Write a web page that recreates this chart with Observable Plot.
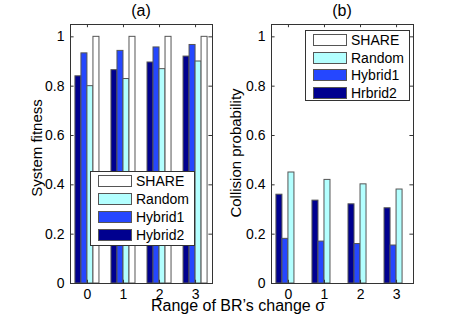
<!DOCTYPE html>
<html><head><meta charset="utf-8">
<script src="https://cdn.jsdelivr.net/npm/d3@7"></script>
<script src="https://cdn.jsdelivr.net/npm/@observablehq/plot@0.6"></script>
<style>
body{margin:0;background:#fff;font-family:"Liberation Sans",Arial,sans-serif;}
#fig{position:relative;width:457px;height:319px;overflow:hidden;background:#fff;}
.panel{position:absolute;top:0;}
.t{position:absolute;white-space:nowrap;color:#000;line-height:1;}
.legend{position:absolute;border:1px solid #333;background:#fff;box-sizing:border-box;}
.sw{position:absolute;border:1px solid #555;box-sizing:border-box;width:34px;height:12px;}
.lt{position:absolute;font-size:14px;line-height:1;white-space:nowrap;}
</style></head>
<body><div id="fig"></div>
<script>
const groups = [0, 1, 2, 3];
const seriesNames = ["SHARE", "Random", "Hybrid1", "Hybrid2"];
const seriesColors = ["#ffffff", "#b3ffff", "#2547ff", "#00008f"];
const barOrder = ["Hybrid2", "Hybrid1", "Random", "SHARE"];
const fitnessHybrid2 = [0.84, 0.865, 0.896, 0.92];
const fitnessHybrid1 = [0.933, 0.943, 0.957, 0.967];
const fitnessRandom = [0.80, 0.829, 0.869, 0.90];
const fitnessShare = [1, 1, 1, 1];
const collisionHybrid2 = [0.36, 0.336, 0.321, 0.305];
const collisionHybrid1 = [0.181, 0.17, 0.16, 0.154];
const collisionRandom = [0.45, 0.42, 0.402, 0.381];
const collisionShare = [0, 0, 0, 0];
const yTicks = [0, 0.2, 0.4, 0.6, 0.8, 1];
const yTickLabels = ["0", "0.2", "0.4", "0.6", "0.8", "1"];
const xTickLabels = ["0", "1", "2", "3"];
const legendA = ["SHARE", "Random", "Hybrid1", "Hybrid2"];
const legendB = ["SHARE", "Random", "Hybrid1", "Hrbrid2"];
const titleA = "(a)", titleB = "(b)";
const yLabelA = "System fitness", yLabelB = "Collision probability";
const xLabel = "Range of BR\u2019s change \u03c3";

const xDomain = [-0.47, 3.47];
const yDomain = [0, 1.05];
const bw = 1 / 6;

function rows(valuesByName) {
  const out = [];
  groups.forEach((g, i) => {
    barOrder.forEach((name, k) => out.push({g, name, k, value: valuesByName[name][i]}));
  });
  return out;
}
const dataA = rows({Hybrid2: fitnessHybrid2, Hybrid1: fitnessHybrid1, Random: fitnessRandom, SHARE: fitnessShare});
const dataB = rows({Hybrid2: collisionHybrid2, Hybrid1: collisionHybrid1, Random: collisionRandom, SHARE: collisionShare});

const tickLenX = 0.1;   // in x units (inward tick)
const tickLenY = 0.013; // in y units

function panel(data, width, ml, mr) {
  return Plot.plot({
    width, height: 319,
    marginLeft: ml, marginRight: mr, marginTop: 24, marginBottom: 36,
    style: {fontFamily: "Liberation Sans, Arial, sans-serif", fontSize: "14px", color: "#000", background: "transparent", overflow: "visible"},
    x: {domain: xDomain},
    y: {domain: yDomain},
    color: {domain: seriesNames, range: seriesColors},
    marks: [
      Plot.rectY(data, {
        x1: d => d.g + (d.k - 2) * bw,
        x2: d => d.g + (d.k - 1) * bw,
        y1: 0, y2: "value",
        fill: "name", stroke: "#555", strokeWidth: 1
      }),
      Plot.ruleY(yTicks, {y: d => d, x1: xDomain[0], x2: xDomain[0] + tickLenX, stroke: "#333"}),
      Plot.ruleY(yTicks, {y: d => d, x1: xDomain[1] - tickLenX, x2: xDomain[1], stroke: "#333"}),
      Plot.ruleX(groups, {x: d => d, y1: yDomain[0], y2: yDomain[0] + tickLenY, stroke: "#333"}),
      Plot.ruleX(groups, {x: d => d, y1: yDomain[1] - tickLenY, y2: yDomain[1], stroke: "#333"}),
      Plot.frame({stroke: "#333"}),
      Plot.axisY(yTicks, {anchor: "left", tickSize: 0, tickPadding: 6, tickFormat: (d, i) => yTickLabels[i], label: null}),
      Plot.axisX(groups, {anchor: "bottom", tickSize: 0, tickPadding: 6, tickFormat: (d, i) => xTickLabels[i], label: null})
    ]
  });
}

const fig = document.getElementById("fig");
const pa = panel(dataA, 228, 70, 16);
pa.classList.add("panel"); pa.style.left = "0px";
fig.appendChild(pa);
const pb = panel(dataB, 229, 43, 44);
pb.classList.add("panel"); pb.style.left = "228px";
fig.appendChild(pb);

function text(str, cx, baseline, size, rotate) {
  const el = document.createElement("div");
  el.className = "t";
  el.textContent = str;
  el.style.fontSize = size + "px";
  if (rotate) {
    el.style.left = cx + "px";
    el.style.top = baseline + "px";
    el.style.transform = "translate(-50%,-50%) rotate(-90deg)";
  } else {
    el.style.left = cx + "px";
    el.style.top = (baseline - 0.85 * size) + "px";
    el.style.transform = "translateX(-50%)";
  }
  fig.appendChild(el);
}
text(titleA, 141, 17, 16);
text(titleB, 342, 17, 16);
text(xLabel, 238, 312, 16);
text(yLabelA, 36, 148, 15, true);
text(yLabelB, 235, 153, 15, true);

function legend(labels, left, top, w, h, step) {
  const box = document.createElement("div");
  box.className = "legend";
  Object.assign(box.style, {left: left + "px", top: top + "px", width: w + "px", height: h + "px"});
  labels.forEach((lab, i) => {
    const sw = document.createElement("div");
    sw.className = "sw";
    sw.style.left = "7px";
    sw.style.top = (3 + i * step) + "px";
    sw.style.background = seriesColors[i];
    box.appendChild(sw);
    const t = document.createElement("div");
    t.className = "lt";
    t.textContent = lab;
    t.style.left = "45px";
    t.style.top = (2 + i * step) + "px";
    box.appendChild(t);
  });
  fig.appendChild(box);
}
legend(legendA, 90, 171, 105, 75, 18);
legend(legendB, 305, 30, 105, 71, 17.5);
</script>
</body></html>
